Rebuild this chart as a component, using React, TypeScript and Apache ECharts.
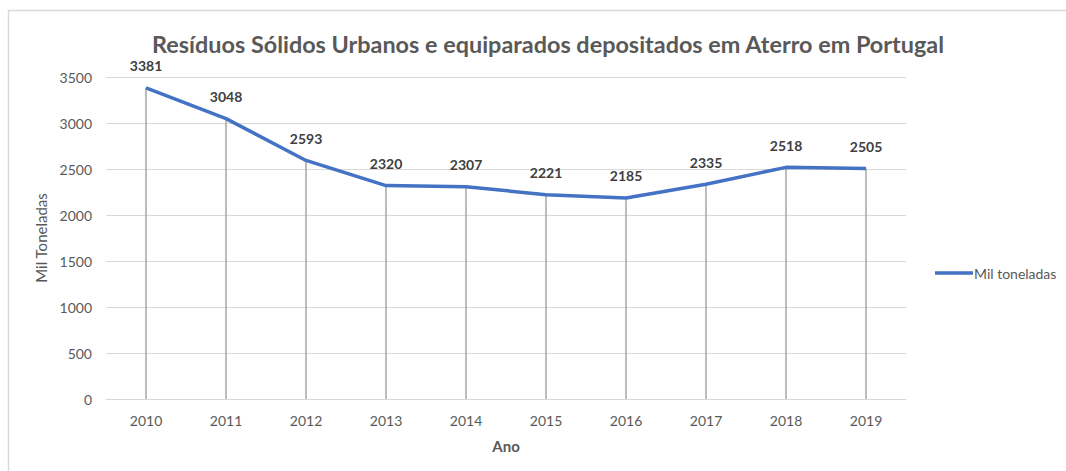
import React, { useEffect, useRef } from "react";
import * as echarts from "echarts";

const years = ["2010", "2011", "2012", "2013", "2014", "2015", "2016", "2017", "2018", "2019"];
const values = [3381, 3048, 2593, 2320, 2307, 2221, 2185, 2335, 2518, 2505];
const seriesName = "Mil toneladas";
const titleText = "Resíduos Sólidos Urbanos e equiparados depositados em Aterro em Portugal";

export default function App() {
  const ref = useRef<HTMLDivElement>(null);
  useEffect(() => {
    document.body.style.margin = "0";
    const chart = echarts.init(ref.current!, null, { renderer: "svg" });
    const font = "Lato, 'Open Sans', sans-serif";
    chart.setOption({
      animation: false,
      backgroundColor: "#ffffff",
      textStyle: { fontFamily: font },
      title: {
        text: titleText,
        left: 543,
        textAlign: "center",
        top: 27,
        textStyle: { fontFamily: font, fontSize: 23.4, fontWeight: "bold", color: "#595959" },
      },
      graphic: [
        {
          type: "rect",
          shape: { x: 8.5, y: 10.5, width: 1200, height: 600 },
          style: { fill: "none", stroke: "#d9d9d9", lineWidth: 1.5 },
          silent: true,
        },
      ],
      legend: {
        data: [{ name: seriesName, icon: "rect" }],
        left: 930,
        top: 261,
        itemWidth: 38,
        itemHeight: 3.5,
        itemGap: 10,
        textStyle: { fontFamily: font, fontSize: 14, color: "#595959", padding: [0, 0, 0, -4] },
      },
      grid: { left: 106, right: 160, top: 77, bottom: 72 },
      xAxis: {
        type: "category",
        data: years,
        name: "Ano",
        nameLocation: "middle",
        nameGap: 39,
        nameTextStyle: { fontFamily: font, fontSize: 15, fontWeight: "bold", color: "#595959" },
        axisLine: { lineStyle: { color: "#d9d9d9", width: 1 } },
        axisTick: { show: false },
        axisLabel: { fontFamily: font, fontSize: 14, color: "#595959", margin: 14 },
      },
      yAxis: {
        type: "value",
        min: 0,
        max: 3500,
        interval: 500,
        name: "Mil Toneladas",
        nameLocation: "middle",
        nameGap: 54,
        nameTextStyle: { fontFamily: font, fontSize: 15, color: "#595959" },
        axisLine: { show: false },
        axisTick: { show: false },
        axisLabel: {
          fontFamily: font,
          fontSize: 14,
          color: "#595959",
          margin: 14,
          formatter: (v: number) => String(v),
        },
        splitLine: { lineStyle: { color: "#d9d9d9", width: 1 } },
      },
      series: [
        {
          name: "drop",
          type: "bar",
          data: values,
          barWidth: 1.5,
          itemStyle: { color: "#a6a6a6" },
          silent: true,
          z: 1,
          label: {
            show: true,
            position: "top",
            distance: 15,
            fontFamily: font,
            fontSize: 14,
            fontWeight: "bold",
            color: "#404040",
          },
        },
        {
          name: seriesName,
          type: "line",
          data: values,
          symbol: "none",
          lineStyle: { color: "#4472C4", width: 3.5 },
          itemStyle: { color: "#4472C4" },
          z: 3,
        },
      ],
    });
    return () => chart.dispose();
  }, []);
  return <div ref={ref} style={{ width: 1066, height: 471 }} />;
}
